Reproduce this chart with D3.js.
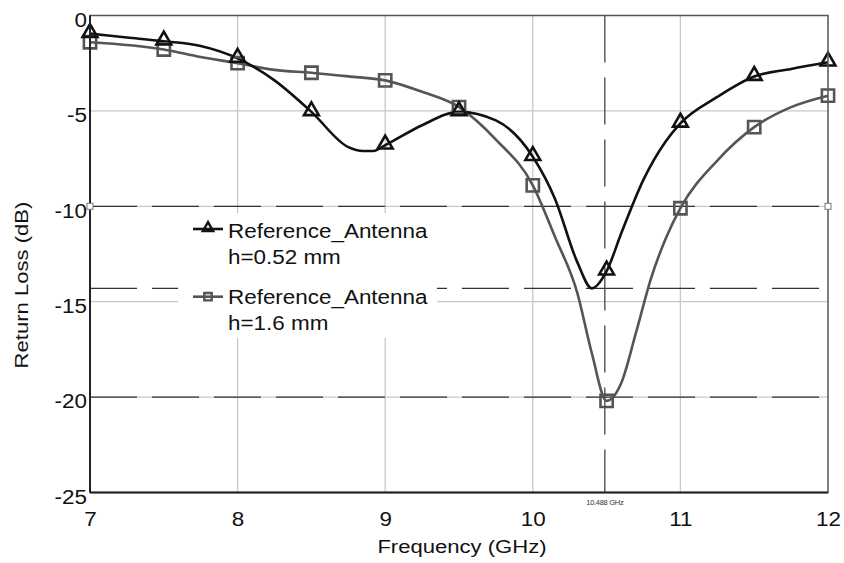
<!DOCTYPE html>
<html><head><meta charset="utf-8">
<script src="https://cdn.jsdelivr.net/npm/d3@7"></script>
<style>body{margin:0;background:#fff}svg{display:block;font-family:"Liberation Sans",Arial,sans-serif}</style>
</head><body><svg id="c" width="844" height="563"></svg>
<script>
// ---- data ----
const freqA = [7,7.25,7.5,7.75,8,8.25,8.5,8.75,8.85,8.92,9,9.25,9.5,9.75,10,10.15,10.3,10.4,10.5,10.6,10.75,10.9,11,11.25,11.5,11.75,12];
const lossA = [-0.95,-1.15,-1.35,-1.6,-2.25,-3.4,-5.05,-6.9,-7.1,-7.1,-6.8,-5.75,-5.05,-5.5,-7.4,-9.6,-12.9,-14.3,-13.4,-11.4,-8.6,-6.6,-5.65,-4.27,-3.2,-2.8,-2.45];
const freqB = [7,7.5,7.75,8,8.25,8.5,8.75,9,9.25,9.5,9.75,10,10.15,10.3,10.4,10.5,10.6,10.7,10.8,10.9,11,11.25,11.5,11.75,12];
const lossB = [-1.4,-1.78,-2.18,-2.5,-2.85,-3.0,-3.19,-3.4,-4.0,-4.8,-6.5,-8.9,-11.6,-14.5,-17.7,-20.2,-19.25,-16.6,-13.8,-11.7,-10.1,-7.6,-5.85,-4.8,-4.2];
const markerFreqs = [7,7.5,8,8.5,9,9.5,10,10.5,11,11.5,12];
const seriesNames = ["Reference_Antenna", "Reference_Antenna"];
const seriesSub = ["h=0.52 mm", "h=1.6 mm"];
const xTicks = [7,8,9,10,11,12];
const yTicks = [0,-5,-10,-15,-20,-25];
const markerX = 10.488;
const markerLabel = "10.488 GHz";
const hLines = [-10, -14.3, -20];

// ---- chart ----
const svg = d3.select("#c");
const L=90,R=828,T=15.5,B=492.5;
const x = d3.scaleLinear().domain([7,12]).range([L,R]);
const y = d3.scaleLinear().domain([-25,0]).range([B,T]);
const STRETCH = 1.15;
function stretch(sel){
  sel.each(function(){
    const w = this.getComputedTextLength();
    this.setAttribute("textLength", w*STRETCH);
    this.setAttribute("lengthAdjust","spacingAndGlyphs");
  });
}

// grid
svg.append("g").selectAll("line").data(xTicks.slice(1,-1)).join("line")
  .attr("x1",d=>x(d)).attr("x2",d=>x(d)).attr("y1",T).attr("y2",B)
  .attr("stroke","#c8c8c8").attr("stroke-width",1.3);
svg.append("g").selectAll("line").data(yTicks.slice(1,-1)).join("line")
  .attr("x1",L).attr("x2",R).attr("y1",d=>y(d)).attr("y2",d=>y(d))
  .attr("stroke","#c8c8c8").attr("stroke-width",1.3);

// marker lines
svg.append("g").selectAll("line").data(hLines).join("line")
  .attr("x1",L).attr("x2",R).attr("y1",d=>y(d)).attr("y2",d=>y(d))
  .attr("stroke","#333").attr("stroke-width",1.3).attr("stroke-dasharray","47,15");
svg.append("line").attr("x1",x(markerX)).attr("x2",x(markerX)).attr("y1",T).attr("y2",B)
  .attr("stroke","#444").attr("stroke-width",1.3).attr("stroke-dasharray","47,15");
svg.append("text").attr("x",x(markerX)).attr("y",505).attr("text-anchor","middle")
  .attr("font-size",7.5).attr("fill","#333").attr("letter-spacing","-0.3").text(markerLabel);

// series
const line = d3.line().x(d=>x(d[0])).y(d=>y(d[1])).curve(d3.curveMonotoneX);
const dA = freqA.map((f,i)=>[f,lossA[i]]);
const dB = freqB.map((f,i)=>[f,lossB[i]]);
svg.append("path").attr("d",line(dB)).attr("fill","none").attr("stroke","#555").attr("stroke-width",2.6);
svg.append("path").attr("d",line(dA)).attr("fill","none").attr("stroke","#111").attr("stroke-width",2.6);

const sq = d3.symbol().type(d3.symbolSquare).size(150);
const tri = d3.symbol().type(d3.symbolTriangle).size(95);
const ptB = markerFreqs.map(f=>[f, lossB[freqB.indexOf(f)]]);
const ptA = markerFreqs.map(f=>[f, lossA[freqA.indexOf(f)]]);
svg.append("g").selectAll("path").data(ptB).join("path").attr("d",sq)
  .attr("transform",d=>`translate(${x(d[0])},${y(d[1])})`)
  .attr("fill","none").attr("stroke","#555").attr("stroke-width",2.6);
svg.append("g").selectAll("path").data(ptA).join("path").attr("d",tri)
  .attr("transform",d=>`translate(${x(d[0])},${y(d[1])-1})`)
  .attr("fill","none").attr("stroke","#111").attr("stroke-width",2.6);

// frame
svg.append("rect").attr("x",L).attr("y",T).attr("width",R-L).attr("height",B-T)
  .attr("fill","none").attr("stroke","#555").attr("stroke-width",1.5);
svg.append("line").attr("x1",L).attr("x2",L).attr("y1",T).attr("y2",B).attr("stroke","#222").attr("stroke-width",2);
svg.append("line").attr("x1",L).attr("x2",R).attr("y1",B).attr("y2",B).attr("stroke","#222").attr("stroke-width",2);
svg.append("g").selectAll("rect").data([L,R]).join("rect")
  .attr("x",d=>d-3).attr("y",y(-10)-3).attr("width",6).attr("height",6)
  .attr("fill","#fff").attr("stroke","#777").attr("stroke-width",1);

// axes
const xAx = svg.append("g").attr("transform",`translate(0,${B})`)
  .call(d3.axisBottom(x).tickValues(xTicks).tickSize(0).tickPadding(20).tickFormat(d3.format("d")));
xAx.select(".domain").remove();
xAx.selectAll("text").attr("font-size",19.5).attr("fill","#111").attr("font-family","Liberation Sans, Arial, sans-serif").call(stretch);
const yAx = svg.append("g").attr("transform",`translate(${L},0)`)
  .call(d3.axisLeft(y).tickValues(yTicks).tickSize(0).tickPadding(3).tickFormat(d3.format("d")));
yAx.select(".domain").remove();
yAx.selectAll("text").attr("font-size",19.5).attr("fill","#111").attr("font-family","Liberation Sans, Arial, sans-serif")
  .attr("y",4.5).text(d=>d<0?"-"+Math.abs(d):d).call(stretch);

svg.append("text").attr("x",(L+R)/2+3).attr("y",553).attr("text-anchor","middle")
  .attr("font-size",19.2).attr("fill","#111").text("Frequency (GHz)").call(stretch);
svg.append("text").attr("transform","translate(28,285) rotate(-90)").attr("text-anchor","middle")
  .attr("font-size",19.2).attr("fill","#111").text("Return Loss (dB)").call(stretch);

// legend
const lg = svg.append("g");
lg.append("rect").attr("x",178).attr("y",213).attr("width",259).attr("height",125).attr("fill","#fff");
const rows = [{y:229, c:"#111", base:238}, {y:296.7, c:"#555", base:304}];
rows.forEach((r,i)=>{
  lg.append("line").attr("x1",193).attr("x2",223).attr("y1",r.y).attr("y2",r.y).attr("stroke",r.c).attr("stroke-width",2.6);
  lg.append("path").attr("d",d3.symbol().type(i?d3.symbolSquare:d3.symbolTriangle).size(i?55:45)())
    .attr("transform",`translate(208,${r.y-(i?0:1)})`).attr("fill","none").attr("stroke",r.c).attr("stroke-width",2.4);
  lg.append("text").attr("x",228).attr("y",r.base).attr("font-size",19.5).attr("fill","#111").text(seriesNames[i]).call(stretch);
  lg.append("text").attr("x",228).attr("y",r.base+26).attr("font-size",19.5).attr("fill","#111").text(seriesSub[i]).call(stretch);
});
</script></body></html>
